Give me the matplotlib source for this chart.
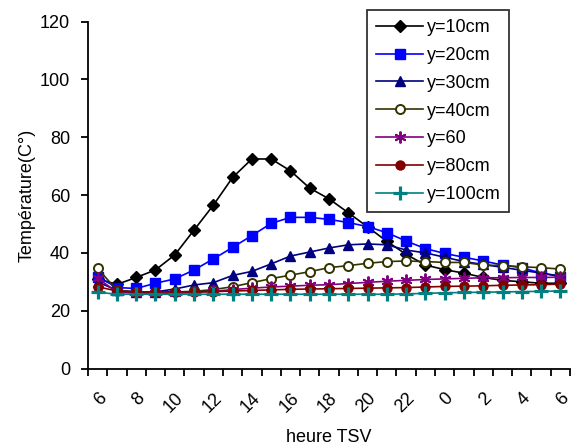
import matplotlib
matplotlib.use("Agg")
import matplotlib.pyplot as plt
from matplotlib.ticker import FixedLocator, NullFormatter

plt.rcParams['font.family'] = ['Liberation Sans', 'DejaVu Sans']

hours = [6, 7, 8, 9, 10, 11, 12, 13, 14, 15, 16, 17, 18, 19, 20, 21, 22, 23,
         0, 1, 2, 3, 4, 5, 6]

y10 = [31.0, 29.1, 31.5, 34.1, 39.3, 47.9, 56.5, 66.1, 72.5, 72.5, 68.4, 62.4, 58.7,
       53.9, 49.0, 44.0, 39.5, 35.8, 34.2, 33.0, 31.5, 30.5, 30.0, 29.5, 29.5]
y20 = [31.8, 28.0, 27.7, 29.5, 31.0, 34.1, 37.9, 41.9, 46.0, 50.2, 52.3, 52.3, 51.6,
       50.5, 49.1, 47.0, 44.1, 41.5, 39.8, 38.5, 37.2, 35.8, 34.9, 33.0, 31.8]
y30 = [30.0, 27.0, 26.5, 26.5, 27.5, 28.9, 29.7, 32.2, 33.6, 36.2, 38.9, 40.3, 41.7,
       42.8, 43.1, 42.8, 41.0, 40.0, 38.5, 37.0, 36.0, 35.0, 34.0, 33.0, 32.0]
y40 = [34.7, 27.0, 26.5, 26.5, 26.5, 26.7, 27.3, 28.3, 29.7, 31.1, 32.3, 33.5, 34.9,
       35.6, 36.4, 37.0, 37.2, 37.0, 36.7, 36.7, 35.8, 35.6, 35.2, 34.9, 34.4]
y60 = [31.2, 26.5, 26.0, 26.0, 26.0, 26.3, 26.7, 27.3, 27.8, 28.2, 28.5, 28.8, 29.0,
       29.4, 29.8, 30.2, 30.5, 30.8, 31.0, 31.2, 31.4, 31.4, 31.5, 31.5, 31.6]
y80 = [28.3, 26.8, 26.5, 26.5, 26.5, 26.5, 26.6, 26.8, 27.0, 27.2, 27.4, 27.5, 27.6,
       27.7, 27.8, 27.9, 28.0, 28.2, 28.4, 28.5, 28.6, 28.8, 28.9, 29.0, 29.2]
y100 = [26.4, 25.7, 25.7, 25.7, 25.7, 25.7, 25.7, 25.7, 25.7, 25.7, 25.7, 25.7, 25.7,
        25.7, 25.7, 25.7, 25.8, 26.0, 26.2, 26.3, 26.4, 26.5, 26.6, 26.7, 26.8]

labels = ['y=10cm', 'y=20cm', 'y=30cm', 'y=40cm', 'y=60', 'y=80cm', 'y=100cm']
series = [y10, y20, y30, y40, y60, y80, y100]
colors = ['#000000', '#0000FF', '#000080', '#333300', '#800080', '#800000', '#008080']
styles = [
    dict(marker='D', markersize=6.5, markerfacecolor='#000000'),
    dict(marker='s', markersize=7.5, markerfacecolor='#0000FF'),
    dict(marker='^', markersize=7.5, markerfacecolor='#000080'),
    dict(marker='o', markersize=6.5, markerfacecolor='white', markeredgewidth=1.4),
    dict(marker=(6, 2, 0), markersize=8.5, markeredgewidth=1.4),
    dict(marker='o', markersize=6.5, markerfacecolor='#800000'),
    dict(marker='+', markersize=10.5, markeredgewidth=2.3),
]

FS = 13

fig = plt.figure(figsize=(5.74, 4.48), dpi=100)
ax = fig.add_axes([88/574, 1-368.5/448, 482/574, 346.8/448])

x = list(range(len(hours)))
handles = []
for s, lab, c, st in zip(series, labels, colors, styles):
    h, = ax.plot(x, s, color=c, linewidth=1.2, markeredgecolor=c, label=lab, **st)
    handles.append(h)

ax.set_xlim(-0.5, len(hours) - 0.5)
ax.set_ylim(0, 120)
ax.set_yticks(range(0, 121, 20))
ax.spines['top'].set_visible(False)
ax.spines['right'].set_visible(False)
for sp in ['left', 'bottom']:
    ax.spines[sp].set_linewidth(1.3)

ax.set_xticks(x[::2])
ax.set_xticklabels([str(h) for h in hours[::2]], rotation=45, ha='right',
                   va='top', rotation_mode='anchor', fontsize=FS)
ax.tick_params(axis='x', which='major', length=0, pad=15)
ax.xaxis.set_minor_locator(FixedLocator([i - 0.5 for i in range(len(hours) + 1)]))
ax.xaxis.set_minor_formatter(NullFormatter())
ax.tick_params(axis='x', which='minor', length=5, width=1.3, direction='out')
ax.tick_params(axis='y', length=5, width=1.3, direction='out', labelsize=FS, pad=8)

ax.set_xlabel('heure TSV', fontsize=FS, labelpad=10)
ax.set_ylabel('Température(C°)', fontsize=FS, labelpad=3)

leg = fig.legend(handles=handles, loc='upper left',
                 bbox_to_anchor=(367/574, 1-10/448), fontsize=FS,
                 frameon=True, fancybox=False, shadow=False,
                 handlelength=2.6, handletextpad=0.2, labelspacing=0.6,
                 borderpad=0.5, borderaxespad=0)
leg.get_frame().set_edgecolor('black')
leg.get_frame().set_linewidth(1.3)

fig.savefig('out.png', dpi=100)
